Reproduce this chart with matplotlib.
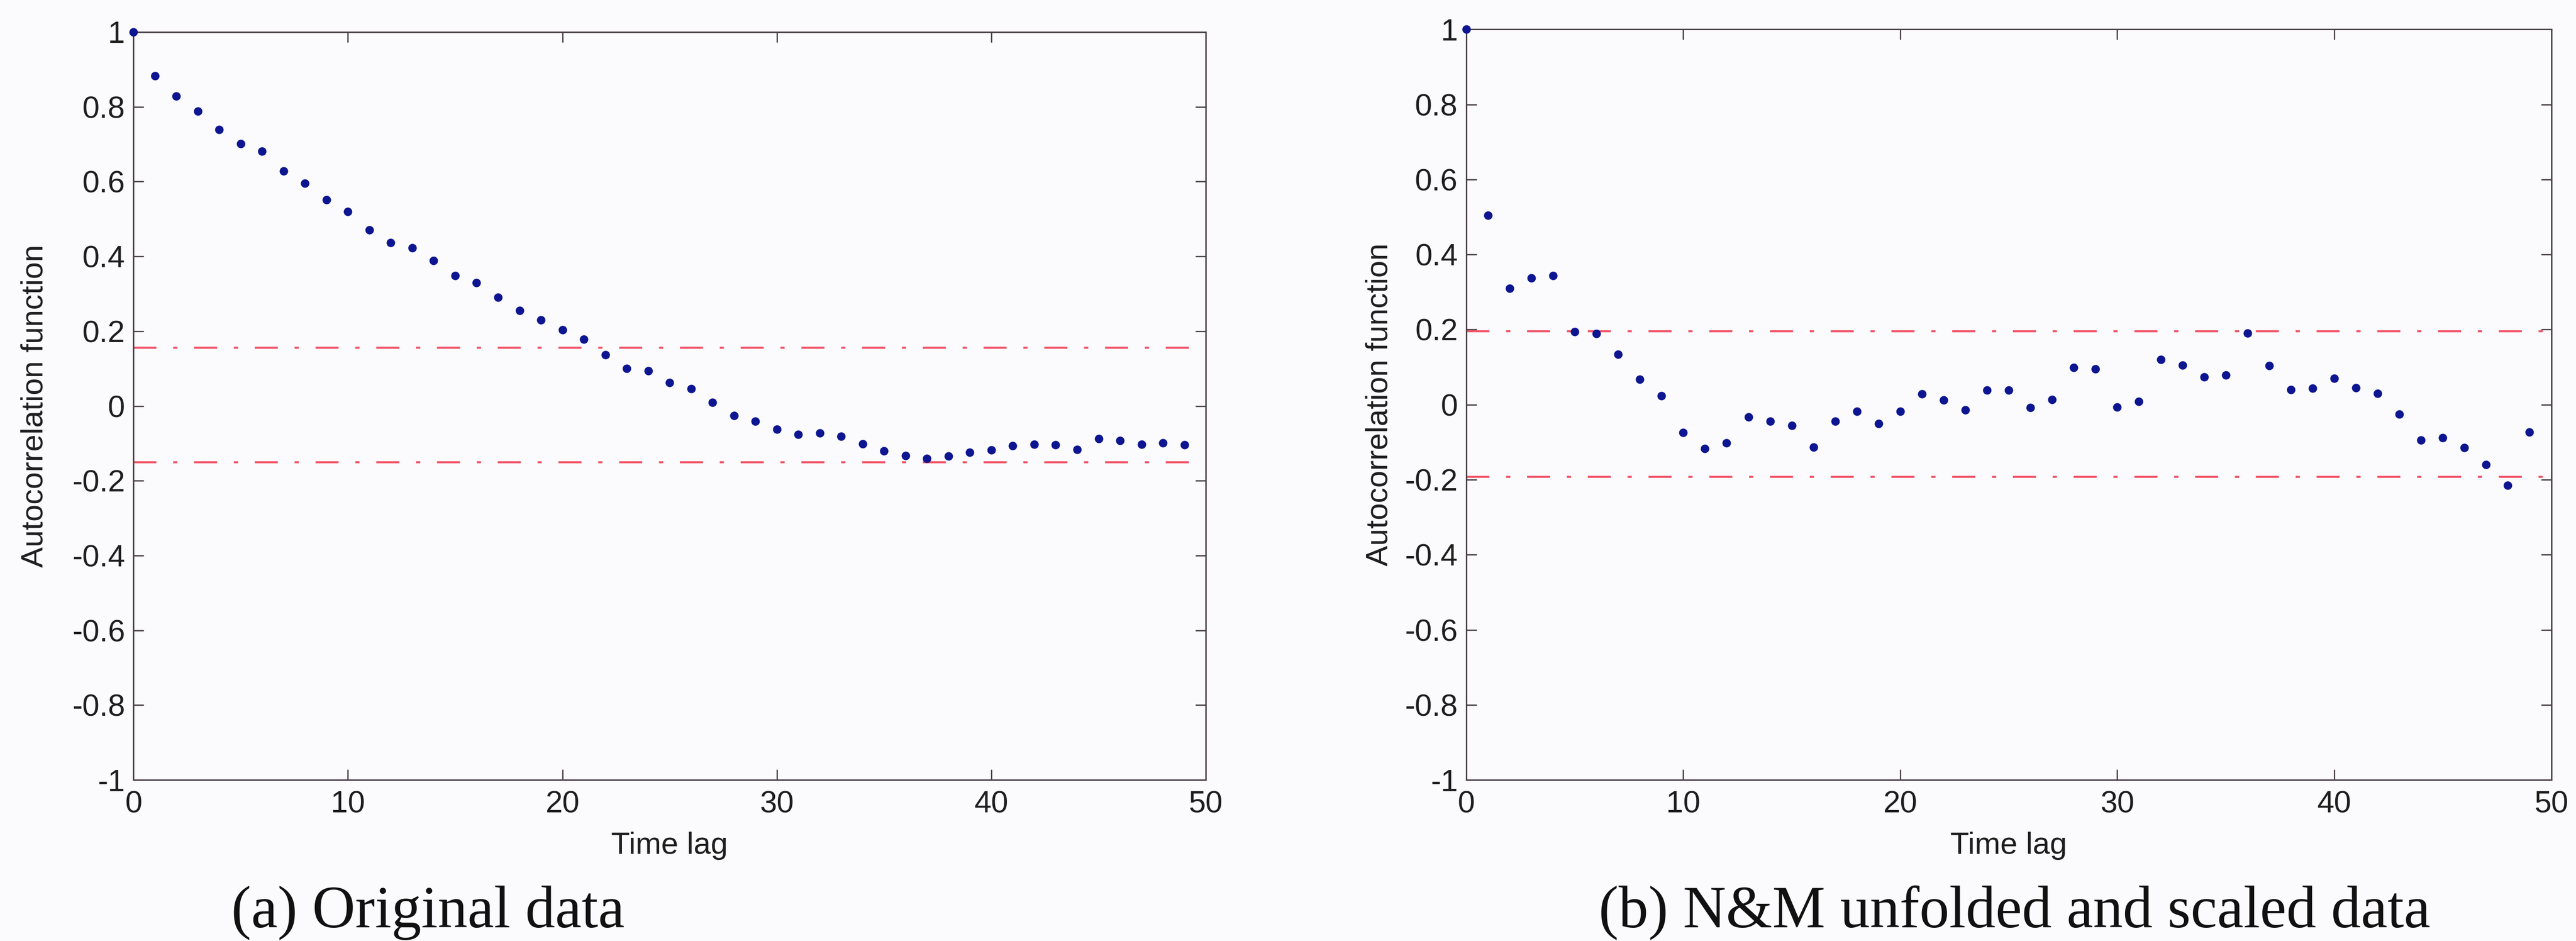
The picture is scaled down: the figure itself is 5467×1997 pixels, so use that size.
import numpy as np
import matplotlib
matplotlib.use("Agg")
import matplotlib.pyplot as plt
from matplotlib.ticker import FormatStrFormatter

# Sample autocorrelation at lags 0..49
lags = np.arange(50)

acf_original = [
    1.000, 0.883, 0.828, 0.788, 0.739, 0.701, 0.681, 0.628, 0.595, 0.551,
    0.520, 0.471, 0.437, 0.423, 0.389, 0.349, 0.330, 0.291, 0.255, 0.230,
    0.204, 0.178, 0.137, 0.100, 0.094, 0.063, 0.046, 0.010, -0.026, -0.041,
    -0.062, -0.076, -0.072, -0.081, -0.102, -0.120, -0.133, -0.141, -0.134, -0.124,
    -0.118, -0.107, -0.103, -0.104, -0.117, -0.088, -0.092, -0.103, -0.099, -0.104,
]

acf_scaled = [
    1.000, 0.504, 0.310, 0.337, 0.344, 0.194, 0.189, 0.134, 0.068, 0.023,
    -0.075, -0.117, -0.102, -0.033, -0.044, -0.055, -0.113, -0.044, -0.018, -0.050,
    -0.018, 0.028, 0.012, -0.014, 0.038, 0.039, -0.008, 0.014, 0.099, 0.095,
    -0.007, 0.008, 0.120, 0.105, 0.074, 0.079, 0.191, 0.104, 0.040, 0.044,
    0.070, 0.045, 0.030, -0.026, -0.094, -0.088, -0.114, -0.160, -0.215, -0.073,
]

# Confidence bounds (upper, lower)
bounds_original = (0.155, -0.150)
bounds_scaled = (0.196, -0.193)

captions = ["(a) Original data", "(b) N&M unfolded and scaled data"]

plt.rcParams["font.family"] = ["Liberation Sans", "DejaVu Sans"]
plt.rcParams["axes.unicode_minus"] = False

BG = "#fbfbfd"
AXIS_COLOR = "#4a404a"
DOT_COLOR = "#0d1590"
BOUND_COLOR = "#f25468"
TEXT_COLOR = "#1e1e1e"

fig = plt.figure(figsize=(54.67, 19.97), dpi=100, facecolor=BG)

ax1 = fig.add_axes([0.0518, 0.1712, 0.4163, 0.7948])
ax2 = fig.add_axes([0.5692, 0.1712, 0.4212, 0.7976])


def draw_acf(ax, values, bounds, ylabel_x):
    ax.set_facecolor(BG)
    ax.plot(lags, values, linestyle="none", marker="o", markersize=12,
            color=DOT_COLOR, clip_on=False, zorder=3)
    for b in bounds:
        ax.axhline(b, color=BOUND_COLOR, linewidth=3.2,
                   linestyle=(0, (11, 8, 2, 8)), zorder=2)

    ax.set_xlim(0, 50)
    ax.set_ylim(-1, 1)
    ax.set_xticks(np.arange(0, 51, 10))
    ax.set_yticks(np.linspace(-1, 1, 11))
    ax.yaxis.set_major_formatter(FormatStrFormatter("%g"))

    for side in ax.spines.values():
        side.set_color(AXIS_COLOR)
        side.set_linewidth(2.2)
    ax.tick_params(direction="in", top=True, right=True, length=16,
                   width=2, color=AXIS_COLOR, labelsize=47,
                   labelcolor=TEXT_COLOR)
    ax.tick_params(axis="y", pad=13)
    ax.tick_params(axis="x", pad=16)

    ax.set_xlabel("Time lag", fontsize=47, color=TEXT_COLOR, labelpad=20)
    ax.set_ylabel("Autocorrelation function", fontsize=47, color=TEXT_COLOR)
    ax.yaxis.set_label_coords(ylabel_x, 0.5)


draw_acf(ax1, acf_original, bounds_original, -0.079)
draw_acf(ax2, acf_scaled, bounds_scaled, -0.067)

# Sub-figure captions
serif = ["Liberation Serif", "DejaVu Serif"]
fig.text(908 / 5467, 1 - 1968 / 1997, captions[0], ha="center",
         va="baseline", fontsize=91, family=serif, color="#111111")
fig.text(4275 / 5467, 1 - 1968 / 1997, captions[1], ha="center",
         va="baseline", fontsize=91, family=serif, color="#111111")

fig.savefig("out.png", dpi=100, facecolor=BG)
